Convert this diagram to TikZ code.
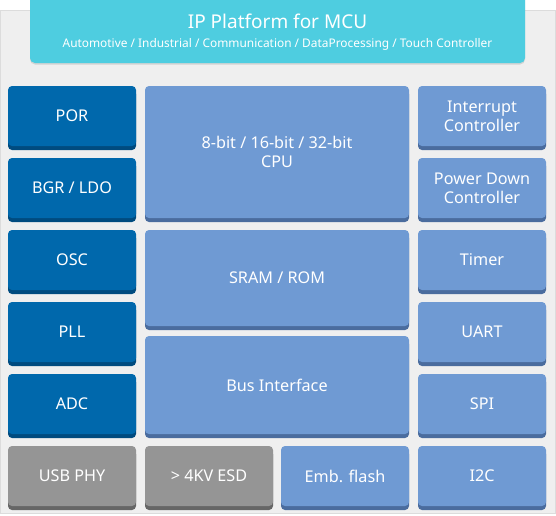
\documentclass[tikz,border=0pt]{standalone}
\usepackage{fontspec}
\setmainfont{Noto Sans}
\usetikzlibrary{shadows}
\definecolor{bgc}{HTML}{EFEFEF}
\definecolor{bgline}{HTML}{DCDCDC}
\definecolor{hdr}{HTML}{4ECDE0}
\definecolor{dblue}{HTML}{0068AC}
\definecolor{dblueS}{HTML}{004B7F}
\definecolor{lblue}{HTML}{6F9AD3}
\definecolor{lblueS}{HTML}{4A6C9E}
\definecolor{gbox}{HTML}{959595}
\definecolor{gboxS}{HTML}{666666}
\tikzset{
  blk/.style={rounded corners=4pt, inner sep=0pt, text=white, align=center,
    font=\fontsize{16.2}{19}\selectfont},
  dk/.style={blk, fill=dblue, general shadow={shadow yshift=-4pt, fill=dblueS}},
  lt/.style={blk, fill=lblue, general shadow={shadow yshift=-4pt, fill=lblueS}},
  gr/.style={blk, fill=gbox, general shadow={shadow yshift=-4pt, fill=gboxS}},
  sw/.style={minimum width=128pt},
  mw/.style={minimum width=264pt},
}
\begin{document}
\begin{tikzpicture}[x=1pt,y=1pt]
\useasboundingbox (0,0) rectangle (556,-515);
\clip (0,0) rectangle (556,-515);
\draw[bgline, fill=bgc] (0.5,-10) rectangle (555.5,-513.5);
% header
\path[fill=hdr, rounded corners=5pt, drop shadow={opacity=0.25, shadow xshift=0pt, shadow yshift=-1.5pt}]
  (30,8) rectangle (525,-63);
\node[text=white, font=\fontsize{19}{21}\selectfont, inner sep=0pt] (title) at (277.5,-21) {IP Platform for MCU};
\node[text=white, font=\fontsize{11.9}{13}\selectfont, inner sep=0pt] (sub) at (277.5,-44) {Automotive / Industrial / Communication / DataProcessing / Touch Controller};
% left column
\node[dk, sw, minimum height=60pt] (por) at (72,-116) {POR};
\node[dk, sw, minimum height=60pt] (bgr) at (72,-188) {BGR / LDO};
\node[dk, sw, minimum height=60pt] (osc) at (72,-260) {OSC};
\node[dk, sw, minimum height=60pt] (pll) at (72,-332) {PLL};
\node[dk, sw, minimum height=60pt] (adc) at (72,-404) {ADC};
% middle column
\node[lt, mw, minimum height=132pt] (cpu) at (277,-152) {8-bit / 16-bit / 32-bit\\CPU};
\node[lt, mw, minimum height=96pt] (sram) at (277,-278) {SRAM / ROM};
\node[lt, mw, minimum height=98pt] (bus) at (277,-385) {Bus Interface};
% right column
\node[lt, sw, minimum height=60pt] (irq) at (482,-116) {Interrupt\\Controller};
\node[lt, sw, minimum height=60pt] (pdc) at (482,-188) {Power Down\\Controller};
\node[lt, sw, minimum height=60pt] (tmr) at (482,-260) {Timer};
\node[lt, sw, minimum height=60pt] (uart) at (482,-332) {UART};
\node[lt, sw, minimum height=60pt] (spi) at (482,-404) {SPI};
% bottom row
\node[gr, sw, minimum height=60pt] (usb) at (72,-476) {USB PHY};
\node[gr, sw, minimum height=60pt] (esd) at (209,-476) {> 4KV ESD};
\node[lt, sw, minimum height=60pt] (emb) at (345,-476) {Emb. flash};
\node[lt, sw, minimum height=60pt] (i2c) at (482,-476) {I2C};
\end{tikzpicture}
\end{document}
